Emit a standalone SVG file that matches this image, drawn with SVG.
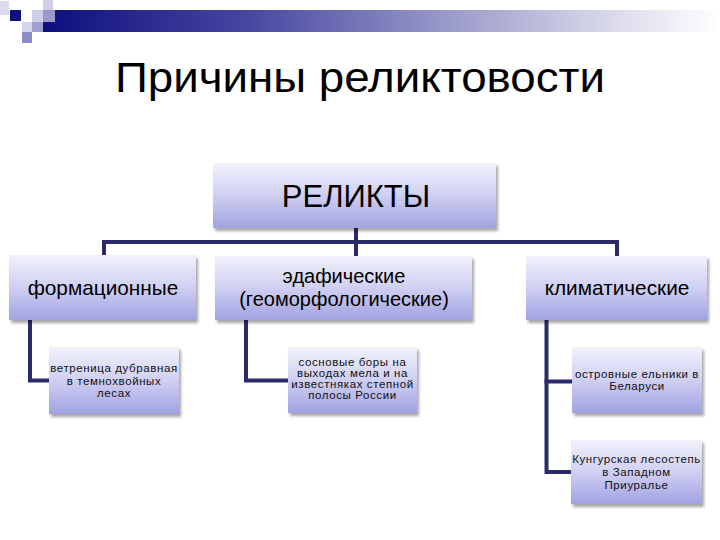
<svg xmlns="http://www.w3.org/2000/svg" width="720" height="540" viewBox="0 0 720 540">
  <defs>
    <linearGradient id="bar" x1="0" y1="0" x2="1" y2="0">
      <stop offset="0" stop-color="#0e0e7e"/>
      <stop offset="0.3" stop-color="#4646a0"/>
      <stop offset="0.6" stop-color="#9a9aca"/>
      <stop offset="0.85" stop-color="#dcdcec"/>
      <stop offset="1" stop-color="#ffffff"/>
    </linearGradient>
    <linearGradient id="box" x1="0" y1="0" x2="0" y2="1">
      <stop offset="0" stop-color="#f2f2fc"/>
      <stop offset="0.5" stop-color="#cfcff2"/>
      <stop offset="1" stop-color="#a2a2e2"/>
    </linearGradient>
    <filter id="sh" x="-10%" y="-10%" width="125%" height="130%">
      <feDropShadow dx="2" dy="3" stdDeviation="1.5" flood-color="#000000" flood-opacity="0.35"/>
    </filter>
  </defs>
  <style>
    .box { fill: url(#box); filter: url(#sh); }
    .conn { fill: none; stroke: #2b2b6b; stroke-width: 4; stroke-linejoin: miter; stroke-linecap: square; }
    text { font-family: "Liberation Sans", Arial, sans-serif; fill: #000000; text-anchor: middle; }
    .t1 { font-size: 31px; }
    .t2 { font-size: 20.8px; }
    .t2b { font-size: 20px; }
    .t3 { font-size: 11.5px; letter-spacing: 0.6px; fill: #111111; }
  </style>
  <rect width="720" height="540" fill="#ffffff"/>

  <!-- header decoration -->
  <g id="header">
    <rect x="43" y="10" width="677" height="22" fill="url(#bar)"/>
    <rect x="0" y="1" width="9" height="14" fill="#dcdcee"/>
    <rect x="43" y="0" width="10" height="10" fill="#cfcfe6"/>
    <rect x="10" y="10" width="11" height="11" fill="#10107e"/>
    <rect x="32" y="10" width="11" height="12" fill="#cfcfe8"/>
    <rect x="43" y="10" width="12" height="12" fill="#9a9acc"/>
    <rect x="22" y="22" width="10" height="10" fill="#d4d4ea"/>
    <rect x="32" y="22" width="11" height="10" fill="#a0a0d0"/>
    <rect x="22" y="32" width="10" height="11" fill="#8c8cc4"/>
  </g>

  <text x="360" y="92" font-size="42" textLength="490" lengthAdjust="spacingAndGlyphs">Причины реликтовости</text>

  <g id="connectors">
    <path class="conn" d="M356 228 V256"/>
    <path class="conn" d="M104 256 V242 H617 V256"/>
    <path class="conn" d="M30 320 V380.5 H49"/>
    <path class="conn" d="M246 320 V380.5 H288"/>
    <path class="conn" d="M546.5 320 V472 H571"/>
    <path class="conn" d="M546.5 381.5 H572"/>
  </g>

  <g id="relikty">
    <rect class="box" x="213" y="163" width="283" height="65"/>
    <text class="t1" x="356" y="207">РЕЛИКТЫ</text>
  </g>

  <g id="formatsionnye">
    <rect class="box" x="9" y="255" width="187" height="65"/>
    <text class="t2" x="103" y="295">формационные</text>
  </g>

  <g id="edaficheskie">
    <rect class="box" x="215" y="256" width="257" height="64"/>
    <text class="t2b" x="344" y="282.5">эдафические</text>
    <text class="t2b" x="344" y="305.5">(геоморфологические)</text>
  </g>

  <g id="klimaticheskie">
    <rect class="box" x="526" y="256" width="181" height="64"/>
    <text class="t2" x="617" y="295">климатические</text>
  </g>

  <g id="vetrenitsa">
    <rect class="box" x="49" y="347" width="130" height="67"/>
    <text class="t3" x="114" y="372">ветреница дубравная</text>
    <text class="t3" x="114" y="384.5">в темнохвойных</text>
    <text class="t3" x="114" y="397">лесах</text>
  </g>

  <g id="sosnovye">
    <rect class="box" x="288" y="347" width="129" height="66"/>
    <text class="t3" x="352.5" y="366">сосновые боры на</text>
    <text class="t3" x="352.5" y="377">выходах мела и на</text>
    <text class="t3" x="352.5" y="388">известняках степной</text>
    <text class="t3" x="352.5" y="399">полосы России</text>
  </g>

  <g id="ostrovnye">
    <rect class="box" x="572" y="347" width="130" height="66"/>
    <text class="t3" x="637" y="378">островные ельники в</text>
    <text class="t3" x="637" y="390">Беларуси</text>
  </g>

  <g id="kungurskaya">
    <rect class="box" x="571" y="440" width="131" height="64"/>
    <text class="t3" x="636.5" y="463">Кунгурская лесостепь</text>
    <text class="t3" x="636.5" y="476">в Западном</text>
    <text class="t3" x="636.5" y="489">Приуралье</text>
  </g>
</svg>
